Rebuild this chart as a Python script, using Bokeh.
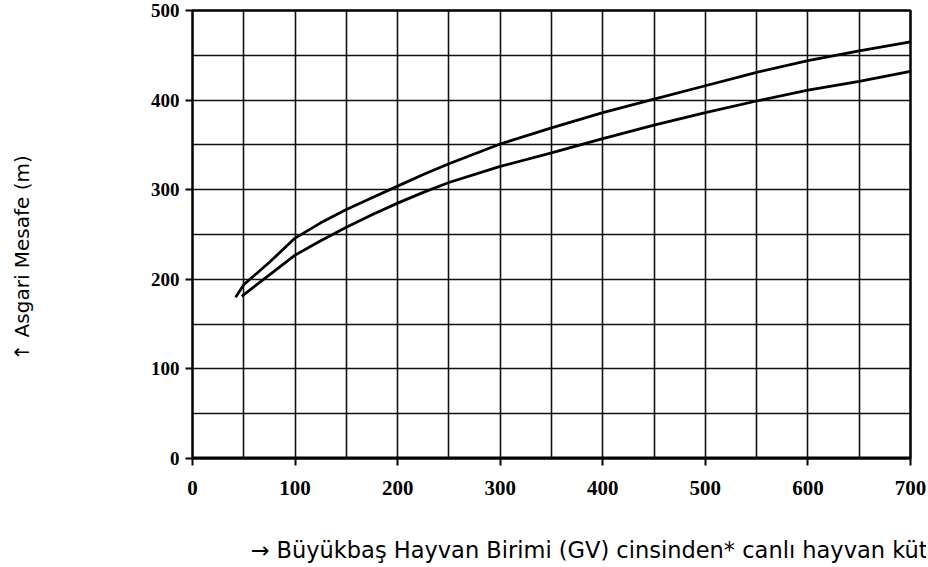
from bokeh.plotting import figure
from bokeh.models import FixedTicker, Title, Range1d
from bokeh.embed import file_html
from bokeh.resources import INLINE

# Data
upper_x = [42, 50, 75, 100, 125, 150, 175, 200, 225, 250, 300, 350, 400, 450, 500, 550, 600, 650, 700]
upper_y = [180, 194, 219, 246, 263, 278, 291, 304, 317, 329, 351, 369, 386, 401, 416, 431, 444, 455, 465]
lower_x = [48, 75, 100, 125, 150, 175, 200, 225, 250, 300, 350, 400, 450, 500, 550, 600, 650, 700]
lower_y = [181, 205, 227, 243, 258, 272, 285, 297, 308, 326, 341, 357, 372, 386, 399, 411, 421, 432]

x_ticks = [0, 100, 200, 300, 400, 500, 600, 700]
y_ticks = [0, 100, 200, 300, 400, 500]
x_grid = [0, 50, 100, 150, 200, 250, 300, 350, 400, 450, 500, 550, 600, 650, 700]
y_grid = [0, 50, 100, 150, 200, 250, 300, 350, 400, 450, 500]

y_title = "\u2191 Asgari Mesafe (m)"
x_title = "\u2192 B\u00fcy\u00fckba\u015f Hayvan Birimi (GV) cinsinden* canl\u0131 hayvan k\u00fctlesi"

p = figure(width=926, height=565, output_backend="svg", toolbar_location=None,
           x_range=Range1d(0, 700), y_range=Range1d(0, 500))
p.min_border_left = 192
p.min_border_right = 16
p.min_border_top = 10
p.min_border_bottom = 107
p.background_fill_color = "white"
p.border_fill_color = "white"
p.outline_line_color = "black"
p.outline_line_width = 2.5

p.xgrid.ticker = FixedTicker(ticks=x_grid)
p.ygrid.ticker = FixedTicker(ticks=y_grid)
for g in (p.xgrid, p.ygrid):
    g.grid_line_color = "#111111"
    g.grid_line_width = 1.6
    g.grid_line_alpha = 1.0

p.xaxis.ticker = FixedTicker(ticks=x_ticks)
p.yaxis.ticker = FixedTicker(ticks=y_ticks)
for ax in (p.xaxis, p.yaxis):
    ax.axis_line_color = None
    ax.major_tick_out = 7
    ax.major_tick_in = 0
    ax.major_tick_line_width = 2
    ax.major_tick_line_color = "black"
    ax.minor_tick_line_color = None
    ax.major_label_text_font = "Liberation Serif"
    ax.major_label_text_font_style = "bold"
    ax.major_label_text_color = "black"
p.xaxis.major_label_text_font_size = "21px"
p.yaxis.major_label_text_font_size = "19px"
p.xaxis.major_label_standoff = 15
p.yaxis.major_label_standoff = 6


def spacer(size):
    # invisible title used only to reserve room in a side panel
    return Title(text="\u00a0", standoff=size, text_font_size="1px",
                 text_color="white", align="left")


# bottom base line thicker
p.line([0, 700], [0, 0], line_color="black", line_width=4)

p.line(upper_x, upper_y, line_color="black", line_width=2.8)
p.line(lower_x, lower_y, line_color="black", line_width=2.8)

p.add_layout(spacer(111), "left")
yt = Title(text=y_title, align="left", offset=98, standoff=0,
           text_font="DejaVu Sans", text_font_size="20px", text_font_style="normal",
           text_color="black")
p.add_layout(yt, "left")

p.add_layout(spacer(34), "below")
xt = Title(text=x_title, align="left", offset=58, standoff=0,
           text_font="DejaVu Sans", text_font_size="22.5px", text_font_style="normal",
           text_color="black")
p.add_layout(xt, "below")

open("out.html", "w").write(file_html(p, INLINE))
